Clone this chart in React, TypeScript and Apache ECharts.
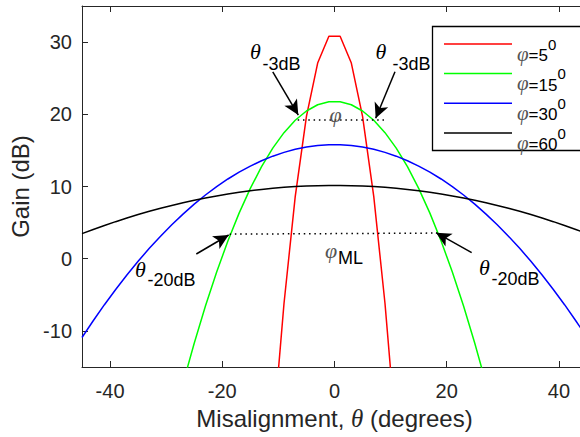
import React, { useEffect, useRef } from 'react';
import * as echarts from 'echarts';

// ---- data ----
const seriesNames = ['φ=5°', 'φ=15°', 'φ=30°', 'φ=60°'];
const legendValues = ['5', '15', '30', '60'];
const seriesColors = ['#ff0000', '#00ff00', '#0000ff', '#000000'];

const thetaRed = [-11, -9, -7, -5, -3, -1, 1, 3, 5, 7, 9, 11];
const gainRed = [-24.7, -6.2, 8.6, 19.7, 27.1, 30.8, 30.8, 27.1, 19.7, 8.6, -6.2, -24.7];

const thetaGreen = [
  -29, -27, -25, -23, -21, -19, -17, -15, -13, -11, -9, -7, -5, -3, -1,
  1, 3, 5, 7, 9, 11, 13, 15, 17, 19, 21, 23, 25, 27, 29,
];
const gainGreen = [
  -23.28, -17.27, -11.7, -6.55, -1.84, 2.45, 6.31, 9.74, 12.74, 15.31, 17.46, 19.17, 20.46, 21.32, 21.75,
  21.75, 21.32, 20.46, 19.17, 17.46, 15.31, 12.74, 9.74, 6.31, 2.45, -1.84, -6.55, -11.7, -17.27, -23.28,
];

const thetaWide = [
  -45, -43, -41, -39, -37, -35, -33, -31, -29, -27, -25, -23, -21, -19, -17, -15, -13, -11, -9, -7, -5, -3, -1,
  1, 3, 5, 7, 9, 11, 13, 15, 17, 19, 21, 23, 25, 27, 29, 31, 33, 35, 37, 39, 41, 43, 45,
];
const gainBlue = [
  -10.91, -8.59, -6.37, -4.26, -2.26, -0.36, 1.44, 3.12, 4.71, 6.18, 7.56, 8.82, 9.98, 11.04, 11.99, 12.83, 13.57, 14.2, 14.73, 15.15, 15.47, 15.68, 15.79,
  15.79, 15.68, 15.47, 15.15, 14.73, 14.2, 13.57, 12.83, 11.99, 11.04, 9.98, 8.82, 7.56, 6.18, 4.71, 3.12, 1.44, -0.36, -2.26, -4.26, -6.37, -8.59, -10.91,
];
const gainBlack = [
  3.47, 4.05, 4.6, 5.13, 5.63, 6.11, 6.56, 6.98, 7.37, 7.74, 8.09, 8.4, 8.69, 8.96, 9.2, 9.41, 9.59, 9.75, 9.88, 9.99, 10.07, 10.12, 10.15,
  10.15, 10.12, 10.07, 9.99, 9.88, 9.75, 9.59, 9.41, 9.2, 8.96, 8.69, 8.4, 8.09, 7.74, 7.37, 6.98, 6.56, 6.11, 5.63, 5.13, 4.6, 4.05, 3.47,
];

const xTicks = [-40, -20, 0, 20, 40];
const yTicks = [-10, 0, 10, 20, 30];

// annotation anchor points in data coordinates (theta, gain)
const dotted3dB = [[-6.56, 19.3], [8.88, 19.3]];
const dotted20dB = [[-18.7, 3.4], [18.2, 3.55]];
const arrows = [
  [[-11.0, 25.86], [-6.45, 19.9]],
  [[10.78, 25.9], [7.34, 19.45]],
  [[-24.63, 0.65], [-18.86, 3.28]],
  [[24.45, 0.83], [18.09, 3.6]],
];

const SANS = '"Liberation Sans", Arial, sans-serif';
const SERIF = '"Liberation Serif", "Times New Roman", serif';
const AXIS_COLOR = '#262626';

const pairs = (xs: number[], ys: number[]) => xs.map((x, i) => [x, ys[i]]);

export default function App() {
  const ref = useRef<HTMLDivElement>(null);

  useEffect(() => {
    if (!ref.current) return;
    const chart = echarts.init(ref.current, undefined, { renderer: 'svg' });

    const dataSets = [
      pairs(thetaRed, gainRed),
      pairs(thetaGreen, gainGreen),
      pairs(thetaWide, gainBlue),
      pairs(thetaWide, gainBlack),
    ];

    const series: any[] = seriesNames.map((name, i) => ({
      name,
      type: 'line',
      data: dataSets[i],
      symbol: 'none',
      showSymbol: false,
      clip: true,
      lineStyle: { color: seriesColors[i], width: 1.5 },
      itemStyle: { color: seriesColors[i] },
      z: 2 + i,
    }));

    const dotStyle = { color: '#000', width: 1.5, type: [1.5, 3.8], cap: 'butt' };
    const arrowStyle = { color: '#000', width: 1.5, type: 'solid' };

    series.push({
      name: '__annot',
      type: 'line',
      data: [],
      silent: true,
      markLine: {
        silent: true,
        animation: false,
        label: { show: false },
        symbolSize: [11, 15],
        data: [
          [
            { coord: dotted3dB[0], symbol: 'none', lineStyle: dotStyle },
            { coord: dotted3dB[1], symbol: 'none' },
          ],
          [
            { coord: dotted20dB[0], symbol: 'none', lineStyle: dotStyle },
            { coord: dotted20dB[1], symbol: 'none' },
          ],
          ...arrows.map((a) => [
            { coord: a[0], symbol: 'none', lineStyle: arrowStyle },
            { coord: a[1], symbol: 'arrow', symbolSize: [11, 15] },
          ]),
        ],
      },
      z: 10,
    });

    const axisCommon = {
      type: 'value',
      splitLine: { show: false },
      axisLine: { show: true, onZero: false, lineStyle: { color: AXIS_COLOR, width: 1 } },
    };

    const textEl = (text: string, x: number, y: number, font: string, fill = '#000') => ({
      type: 'text',
      x,
      y,
      z: 20,
      silent: true,
      style: { text, font, fill, align: 'left', verticalAlign: 'middle' },
    });

    const thetaFont = `italic 22px ${SERIF}`;
    const subFont = `18px ${SANS}`;

    // legend drawn as graphic elements (box, sample lines, rich labels)
    const legendRowY = [44, 73.5, 103.3, 133];
    const legendEls: any[] = [
      {
        type: 'rect',
        z: 15,
        silent: true,
        shape: { x: 432.5, y: 26.5, width: 170, height: 124 },
        style: { fill: '#ffffff', stroke: '#000000', lineWidth: 1.3 },
      },
    ];
    seriesNames.forEach((_, i) => {
      const yc = legendRowY[i];
      legendEls.push({
        type: 'line',
        z: 16,
        silent: true,
        shape: { x1: 444, y1: yc, x2: 512, y2: yc },
        style: { stroke: seriesColors[i], lineWidth: 1.5 },
      });
      legendEls.push({
        type: 'text',
        z: 16,
        silent: true,
        x: 517,
        y: yc,
        style: {
          text: `{p|φ}{m|=${legendValues[i]}}{s|0}`,
          align: 'left',
          verticalAlign: 'middle',
          font: `17px ${SANS}`,
          fill: '#000',
          rich: {
            p: { fontFamily: SERIF, fontStyle: 'italic', fontSize: 21, fill: '#555', lineHeight: 23, verticalAlign: 'bottom' },
            m: { fontFamily: SANS, fontSize: 17, fill: '#000', lineHeight: 23, verticalAlign: 'bottom' },
            s: { fontFamily: SANS, fontSize: 15, fill: '#000', lineHeight: 40 },
          },
        },
      });
    });

    chart.setOption({
      animation: false,
      backgroundColor: '#ffffff',
      grid: { left: 82, top: 6, width: 505, height: 361, containLabel: false, outerBoundsMode: 'none' },
      xAxis: [
        {
          ...axisCommon,
          position: 'bottom',
          min: -45,
          max: 45,
          axisTick: { show: true, inside: true, length: 6, customValues: xTicks, lineStyle: { color: AXIS_COLOR } },
          axisLabel: { show: true, customValues: xTicks, fontSize: 20, fontFamily: SANS, color: AXIS_COLOR, margin: 14 },
          name: '{a|Misalignment, }{t|θ}{a| (degrees)}',
          nameLocation: 'middle',
          nameGap: 39,
          nameTextStyle: {
            fontSize: 24,
            color: AXIS_COLOR,
            fontFamily: SANS,
            rich: {
              a: { fontSize: 24, fontFamily: SANS, color: AXIS_COLOR },
              t: { fontSize: 25, fontFamily: SERIF, fontStyle: 'italic', color: AXIS_COLOR },
            },
          },
        },
        {
          ...axisCommon,
          position: 'top',
          min: -45,
          max: 45,
          axisTick: { show: true, inside: true, length: 6, customValues: xTicks, lineStyle: { color: AXIS_COLOR } },
          axisLabel: { show: false },
        },
      ],
      yAxis: [
        {
          ...axisCommon,
          position: 'left',
          min: -15,
          max: 35,
          axisTick: { show: true, inside: true, length: 6, customValues: yTicks, lineStyle: { color: AXIS_COLOR } },
          axisLabel: { show: true, customValues: yTicks, fontSize: 20, fontFamily: SANS, color: AXIS_COLOR, margin: 10 },
          name: 'Gain (dB)',
          nameLocation: 'middle',
          nameGap: 47,
          nameTextStyle: { fontSize: 24, color: AXIS_COLOR, fontFamily: SANS },
        },
        {
          ...axisCommon,
          position: 'right',
          min: -15,
          max: 35,
          axisTick: { show: true, inside: true, length: 6, customValues: yTicks, lineStyle: { color: AXIS_COLOR } },
          axisLabel: { show: false },
        },
      ],
      graphic: [
        ...legendEls,
        textEl('θ', 250, 51.5, thetaFont),
        textEl('-3dB', 262.5, 64.2, subFont),
        textEl('θ', 375.5, 51, thetaFont),
        textEl('-3dB', 392.5, 64, subFont),
        textEl('φ', 329.5, 114, thetaFont, '#555'),
        textEl('φ', 325, 250, thetaFont, '#555'),
        textEl('ML', 338, 257.5, subFont),
        textEl('θ', 135, 269.3, thetaFont),
        textEl('-20dB', 147.5, 280, subFont),
        textEl('θ', 479, 267, thetaFont),
        textEl('-20dB', 491.5, 279, subFont),
      ],
      series,
    });

    return () => chart.dispose();
  }, []);

  return (
    <div
      ref={ref}
      style={{ position: 'fixed', left: 0, top: 0, width: 580, height: 437, background: '#fff' }}
    />
  );
}
